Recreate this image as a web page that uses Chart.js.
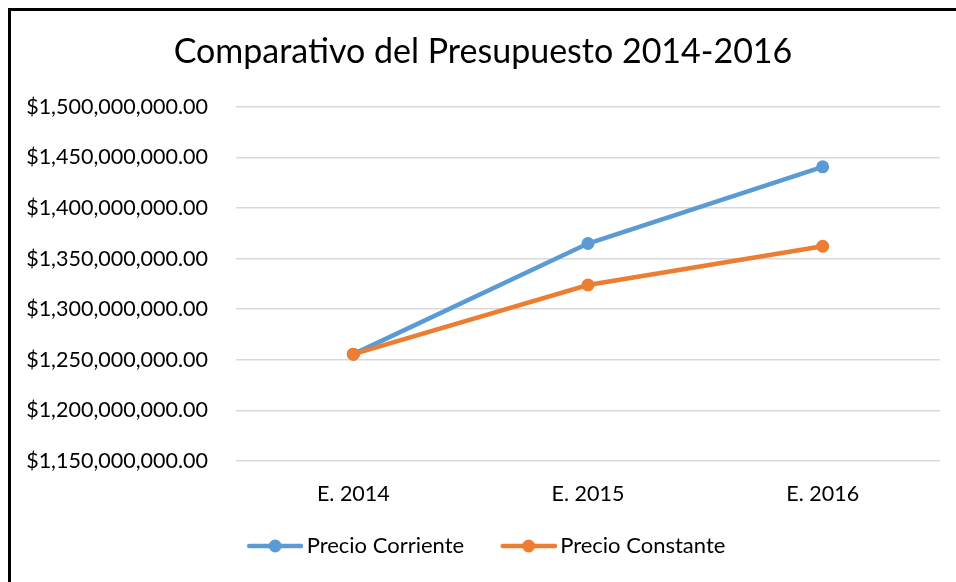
<!DOCTYPE html>
<html lang="es">
<head>
    <meta charset="UTF-8">
    <title>Comparativo del Presupuesto 2014-2016</title>
    <script src="https://cdn.jsdelivr.net/npm/chart.js"></script>
    <style>
        body { margin: 0; background: #fff; overflow: hidden; }
        #frame {
            position: absolute; left: 8px; top: 8px; width: 1000px; height: 700px;
            border-top: 3px solid #000; border-left: 3px solid #000;
        }
        #chartBox { position: absolute; left: 0; top: 0; width: 956px; height: 582px; }
    </style>
</head>
<body>
    <div id="frame"></div>
    <div id="chartBox">
        <canvas id="lineChart" width="956" height="582"></canvas>
    </div>
<script>
    var categories = ['E. 2014', 'E. 2015', 'E. 2016'];
    var precioCorriente = [1255600000, 1364900000, 1440700000];
    var precioConstante = [1255600000, 1323900000, 1362200000];
    var yMin = 1150000000;
    var yMax = 1500000000;
    var yStep = 50000000;

    var fontFamily = 'Lato, "Open Sans", sans-serif';

    // legend marker: a short line with a dot in the middle, like the spreadsheet legend.
    // the image has a transparent strip on the left so the line sits close to its text
    function legendMarker(color) {
        var c = document.createElement('canvas');
        c.width = 70;
        c.height = 14;
        var g = c.getContext('2d');
        g.strokeStyle = color;
        g.lineWidth = 4.5;
        g.lineCap = 'round';
        g.beginPath();
        g.moveTo(16, 7);
        g.lineTo(68, 7);
        g.stroke();
        g.fillStyle = color;
        g.beginPath();
        g.arc(42, 7, 6.5, 0, Math.PI * 2);
        g.fill();
        return c;
    }

    function money(v) {
        return '$' + Number(v).toLocaleString('en-US', { minimumFractionDigits: 2, maximumFractionDigits: 2 });
    }

    var ctx = document.getElementById('lineChart').getContext('2d');
    window.myChart = new Chart(ctx, {
        type: 'line',
        data: {
            labels: categories,
            datasets: [{
                label: 'Precio Corriente',
                data: precioCorriente,
                borderColor: '#5B9BD5',
                backgroundColor: '#5B9BD5',
                borderWidth: 4.5,
                pointRadius: 6.5,
                pointBorderWidth: 0,
                pointStyle: 'circle',
                order: 1
            }, {
                label: 'Precio Constante',
                data: precioConstante,
                borderColor: '#ED7D31',
                backgroundColor: '#ED7D31',
                borderWidth: 4.5,
                pointRadius: 6.5,
                pointBorderWidth: 0,
                pointStyle: 'circle',
                order: 0
            }]
        },
        options: {
            responsive: false,
            animation: false,
            layout: {
                padding: { left: 26, right: 16, top: 0, bottom: 15 }
            },
            scales: {
                x: {
                    offset: true,
                    grid: { display: false },
                    border: { display: false },
                    afterFit: function (scale) {
                        scale.height = 44;
                    },
                    ticks: {
                        color: '#000',
                        padding: 12,
                        font: { family: fontFamily, size: 21.5 }
                    }
                },
                y: {
                    min: yMin,
                    max: yMax,
                    grid: { color: '#D9D9D9', lineWidth: 1.5, drawTicks: false },
                    border: { display: false },
                    afterFit: function (scale) {
                        scale.width = 210;
                    },
                    ticks: {
                        stepSize: yStep,
                        color: '#000',
                        padding: 28,
                        font: { family: fontFamily, size: 21.5 },
                        callback: function (value) {
                            return money(value);
                        }
                    }
                }
            },
            plugins: {
                title: {
                    display: true,
                    text: 'Comparativo del Presupuesto 2014-2016',
                    color: '#000',
                    font: { family: fontFamily, size: 34, weight: 'normal' },
                    padding: { top: 32, bottom: 34 }
                },
                legend: {
                    position: 'bottom',
                    labels: {
                        color: '#000',
                        usePointStyle: true,
                        pointStyleWidth: 55,
                        padding: 30,
                        font: { family: fontFamily, size: 22 },
                        sort: function (a, b) {
                            return a.datasetIndex - b.datasetIndex;
                        },
                        generateLabels: function (chart) {
                            var items = Chart.defaults.plugins.legend.labels.generateLabels(chart);
                            items.forEach(function (item) {
                                var ds = chart.data.datasets[item.datasetIndex];
                                item.pointStyle = legendMarker(ds.borderColor);
                            });
                            return items;
                        }
                    }
                },
                tooltip: { enabled: false }
            }
        }
    });
</script>
</body>
</html>
